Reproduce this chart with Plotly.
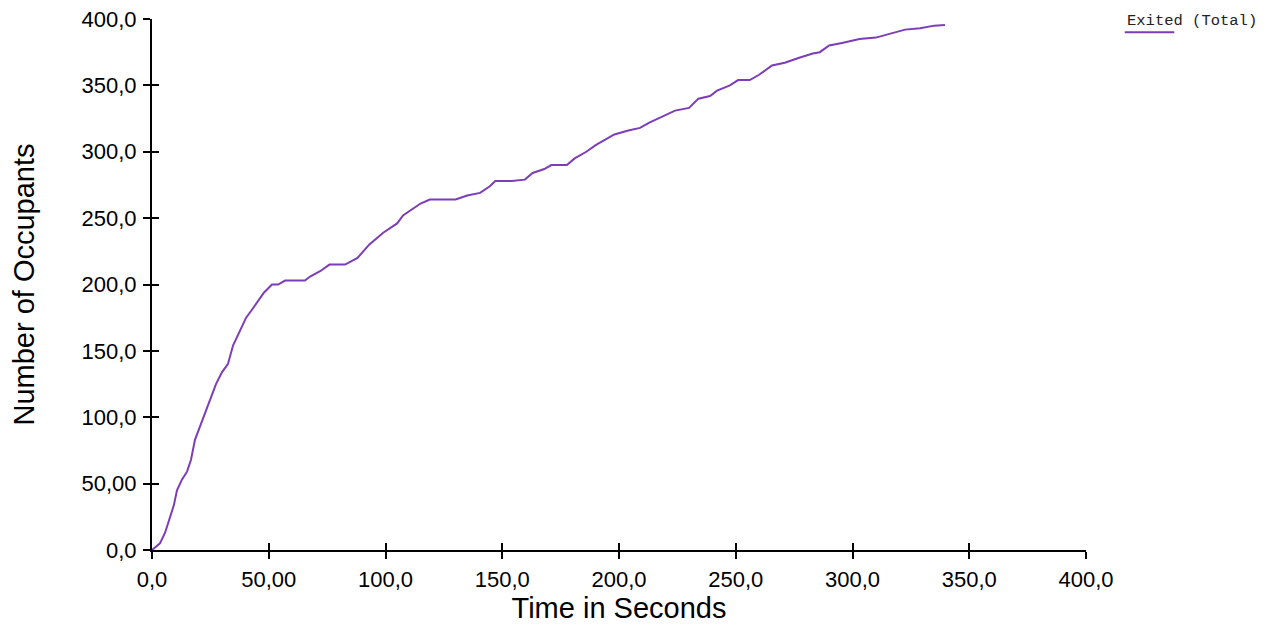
import plotly.graph_objects as go

time_s = [0, 3.4, 5.6, 7.7, 9.4, 10.7, 12.8, 15, 16.7, 18.4, 20.6, 23, 25.3, 27.4, 30, 32.5, 34.7,
          37.7, 40.3, 42.8, 45.4, 48, 51.4, 54, 57, 65.5, 67.7, 72, 76, 82.7, 88, 93, 99, 105,
          107.5, 112.6, 115, 119, 130, 135, 140.5, 144.7, 147, 154, 159.7, 163, 168, 171, 177.7,
          181, 186, 190, 194, 198, 204, 209, 213, 219, 224, 230, 234, 239, 242, 247.5, 251, 256,
          260, 265.5, 271, 277.5, 283, 286, 290, 295.5, 303, 310, 316, 322.5, 329, 335, 339.6]
exited = [0, 5, 13, 24, 34, 45, 53, 59, 68, 83, 93, 105, 115, 125, 134, 140, 154,
          166, 175, 181, 188, 194, 200, 200, 203, 203, 206, 210, 215, 215, 220, 230, 239, 246,
          252, 258, 261, 264, 264, 267, 269, 274, 278, 278, 279, 284, 287, 290, 290,
          295, 300, 305, 309, 313, 316, 318, 322, 327, 331, 333, 340, 342, 346, 350, 354, 354,
          358, 365, 367, 371, 374, 375, 380, 382, 385, 386, 389, 392, 393, 395, 395.5]

x_tickvals = [0, 50, 100, 150, 200, 250, 300, 350, 400]
x_ticktext = ["0,0", "50,00", "100,0", "150,0", "200,0", "250,0", "300,0", "350,0", "400,0"]
y_tickvals = [0, 50, 100, 150, 200, 250, 300, 350, 400]
y_ticktext = ["0,0", "50,00", "100,0", "150,0", "200,0", "250,0", "300,0", "350,0", "400,0"]

series_name = "Exited (Total)"
line_color = "#7B3DB8"
font_family = "Liberation Sans, Arial, sans-serif"

fig = go.Figure()
fig.add_trace(go.Scatter(x=time_s, y=exited, mode="lines", name=series_name,
                         line=dict(color=line_color, width=2), showlegend=False))

axis_common = dict(showgrid=False, zeroline=False, showline=True, linecolor="black",
                   linewidth=2, tickcolor="black", tickwidth=2, ticklen=7, automargin=False)

fig.update_layout(
    width=1262, height=618,
    margin=dict(l=144, r=184, t=11, b=76),
    paper_bgcolor="white", plot_bgcolor="white",
    font=dict(family=font_family, color="black", size=22),
    xaxis=dict(range=[0, 400], tickvals=x_tickvals, ticktext=x_ticktext, ticks="outside",
               tickfont=dict(size=22), ticklabelstandoff=2, ticklabeloverflow="allow",
               title=dict(text="Time in Seconds", font=dict(size=29), standoff=1),
               **axis_common),
    yaxis=dict(range=[0, 400], tickvals=y_tickvals, ticktext=y_ticktext, ticks="outside",
               tickfont=dict(size=22), ticklabelstandoff=2, ticklabeloverflow="allow",
               title=dict(text="Number of Occupants", font=dict(size=29), standoff=47),
               **axis_common),
    xaxis2=dict(range=[0, 400], tickvals=x_tickvals, ticks="inside", showticklabels=False,
                overlaying="x", anchor="y", **axis_common),
    yaxis2=dict(range=[0, 400], tickvals=y_tickvals, ticks="inside", showticklabels=False,
                overlaying="y", anchor="x", **axis_common),
)
fig.add_trace(go.Scatter(x=[None], y=[None], xaxis="x2", yaxis="y2", showlegend=False,
                         hoverinfo="skip"))

fig.add_annotation(text=series_name, xref="paper", yref="paper", x=1.0415, y=0.9955,
                   xanchor="left", yanchor="middle", showarrow=False,
                   font=dict(family="Liberation Mono, Courier New, monospace", size=15.5, color="#222"))
fig.add_shape(type="line", xref="paper", yref="paper", x0=1.0415, x1=1.0945, y0=0.975, y1=0.975,
              line=dict(color=line_color, width=2))

fig.write_html("out.html")
